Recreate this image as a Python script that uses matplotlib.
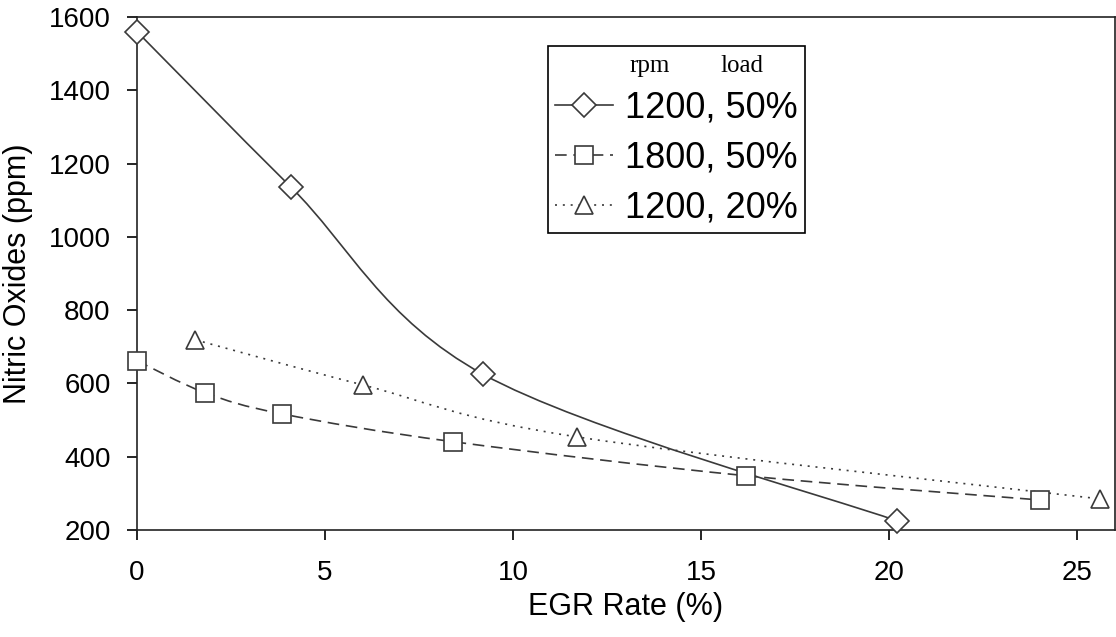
import numpy as np
import matplotlib
matplotlib.use("Agg")
import matplotlib.pyplot as plt
from matplotlib.path import Path
from matplotlib.patches import PathPatch
from matplotlib.lines import Line2D

plt.rcParams['font.family'] = ['Liberation Sans', 'DejaVu Sans']

# data
egr_1200_50 = [0.0, 4.1, 9.2, 20.2]
nox_1200_50 = [1560, 1135, 625, 225]
egr_1800_50 = [0.0, 1.8, 3.85, 8.4, 16.2, 24.0]
nox_1800_50 = [662, 575, 517, 441, 348, 282]
egr_1200_20 = [1.55, 6.0, 11.7, 25.6]
nox_1200_20 = [719, 596, 454, 285]
labels = ['1200, 50%', '1800, 50%', '1200, 20%']

LC = '#3a3a3a'


def smooth_path(x, y):
    # Excel-style smoothed line: cubic Bezier segments with Catmull-Rom tangents
    p = np.column_stack([x, y]).astype(float)
    n = len(p)
    verts = [p[0]]
    codes = [Path.MOVETO]
    for i in range(n - 1):
        p0 = p[i - 1] if i > 0 else p[i]
        p3 = p[i + 2] if i + 2 < n else p[i + 1]
        c1 = p[i] + (p[i + 1] - p0) / 6.0
        c2 = p[i + 1] - (p3 - p[i]) / 6.0
        verts += [c1, c2, p[i + 1]]
        codes += [Path.CURVE4] * 3
    return Path(verts, codes)


fig = plt.figure(figsize=(11.16, 6.37), dpi=100)
ax = fig.add_axes([137 / 1116, 1 - 530 / 637, 978 / 1116, 513 / 637])

series = [
    (egr_1200_50, nox_1200_50, 'D', '-', 12),
    (egr_1800_50, nox_1800_50, 's', (0, (7, 4)), 12.5),
    (egr_1200_20, nox_1200_20, '^', (0, (1.2, 3.5)), 13),
]
handles = []
for (x, y, mk, ls, ms), lab in zip(series, labels):
    ax.add_patch(PathPatch(smooth_path(x, y), fill=False, edgecolor=LC,
                           linewidth=1.2, linestyle=ls, zorder=2))
    ax.plot(x, y, linestyle='none', marker=mk, markersize=ms,
            markerfacecolor='white', markeredgecolor=LC, markeredgewidth=1.2,
            zorder=3, clip_on=False)
    handles.append(Line2D([], [], color=LC, linewidth=1.2, linestyle=ls,
                          marker=mk, markersize=ms, markerfacecolor='white',
                          markeredgecolor=LC, markeredgewidth=1.2))

ax.set_xlim(0, 26)
ax.set_ylim(200, 1600)
ax.set_xticks(range(0, 26, 5))
ax.set_yticks(range(200, 1601, 200))
ax.tick_params(direction='out', length=7, width=1.2, labelsize=20)
ax.tick_params(axis='x', pad=14.5)
ax.tick_params(axis='y', pad=12)
for s in ax.spines.values():
    s.set_linewidth(1.2)
    s.set_color('#222222')

ax.set_xlabel('EGR Rate (%)', fontsize=22, labelpad=4.5)
ax.set_ylabel('Nitric Oxides (ppm)', fontsize=22, labelpad=11)

leg = ax.legend(handles, labels, loc='upper left', bbox_to_anchor=(0.42, 0.943),
                borderaxespad=0, fontsize=26, frameon=True, fancybox=False,
                framealpha=1, edgecolor='black', handlelength=1.6,
                handletextpad=0.33, labelspacing=0.42, borderpad=0.2,
                title=' ',
                title_fontproperties={'family': 'Liberation Serif', 'size': 18})
leg.get_frame().set_linewidth(1.2)

for word, px in [('rpm', 629), ('load', 720)]:
    ax.text((px - 137) / 978, (530 - 66) / 513, word, transform=ax.transAxes,
            family='Liberation Serif', fontsize=18, va='center', ha='left',
            zorder=10)

fig.savefig('out.png', dpi=100)
